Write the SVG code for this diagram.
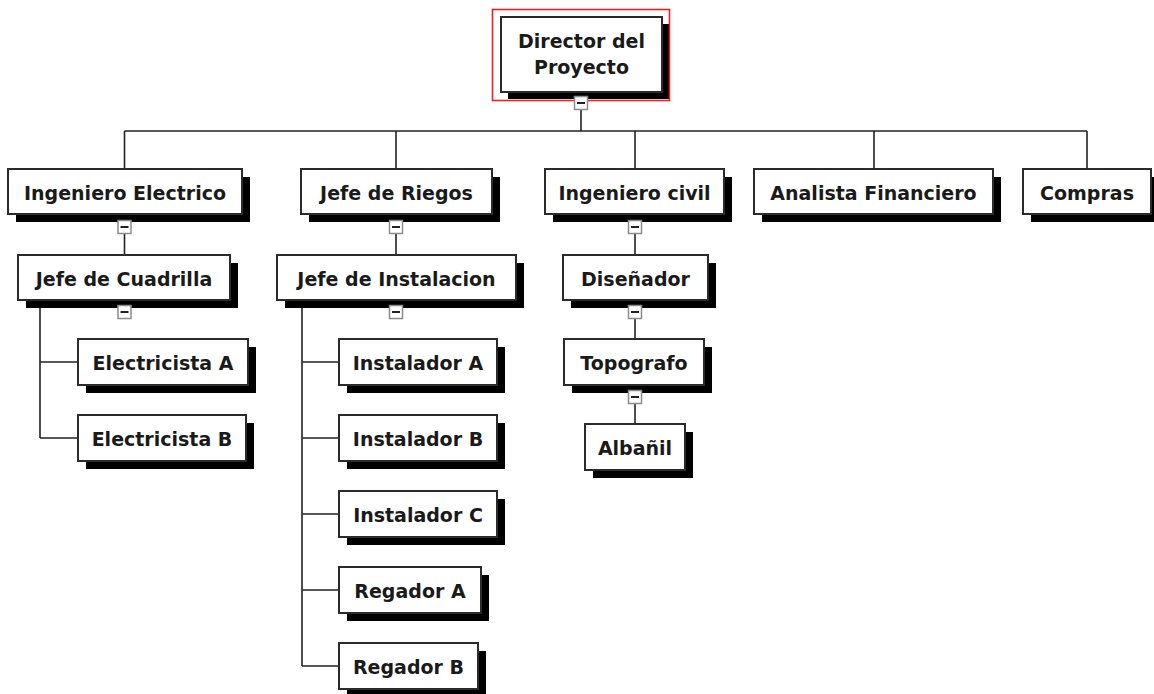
<svg xmlns="http://www.w3.org/2000/svg" width="1154" height="694" viewBox="0 0 1154 694">
  <style>
    .box { fill: #ffffff; stroke: #2b2b2b; stroke-width: 2; }
    .shadow { fill: #000000; }
    .label { font-family: "DejaVu Sans", Verdana, sans-serif; font-weight: bold; font-size: 19px; fill: #1a1a1a; text-anchor: middle; }
    .wire { fill: none; stroke: #222222; stroke-width: 1.6; }
    .toggle rect { fill: #ffffff; stroke: #8c8c8c; stroke-width: 1.5; }
    .toggle line { stroke: #222222; stroke-width: 2; }
    .focus { fill: none; stroke: #e8202a; stroke-width: 1.6; }
  </style>
  <defs>
    <g id="toggle" class="toggle">
      <rect x="-6.5" y="0" width="13" height="13"/>
      <line x1="-4" y1="6.5" x2="4" y2="6.5"/>
    </g>
  </defs>

  <rect width="1154" height="694" fill="#ffffff"/>

  <!-- connectors -->
  <g id="connectors" class="wire">
    <path d="M581 109 V131"/>
    <path d="M124.5 131 H1087"/>
    <path d="M124.5 131 V169 M396 131 V169 M635 131 V169 M874 131 V169 M1087 131 V169"/>
    <path d="M124.5 233 V255 M396 233 V255 M635 233 V255"/>
    <path d="M40 300 V438 M40 362 H78 M40 438 H78"/>
    <path d="M302 301 V666 M302 362 H339 M302 438 H339 M302 514 H339 M302 590 H339 M302 666 H339"/>
    <path d="M635 318 V339 M635 403 V424"/>
  </g>

  <!-- nodes -->
  <g id="n-director">
    <rect class="shadow" x="508" y="24" width="161" height="75"/>
    <rect class="box" x="501" y="17" width="161" height="75"/>
    <text class="label" x="581.5" y="48">Director del</text>
    <text class="label" x="581.5" y="74">Proyecto</text>
    <rect class="focus" x="492.5" y="9.5" width="177" height="91"/>
    <use href="#toggle" x="581" y="96.5"/>
  </g>

  <g id="n-ing-electrico">
    <rect class="shadow" x="16" y="177" width="234" height="45"/>
    <rect class="box" x="8" y="169" width="234" height="45"/>
    <text class="label" x="125" y="200">Ingeniero Electrico</text>
    <use href="#toggle" x="124.5" y="220.5"/>
  </g>

  <g id="n-jefe-riegos">
    <rect class="shadow" x="309" y="177" width="191" height="45"/>
    <rect class="box" x="301" y="169" width="191" height="45"/>
    <text class="label" x="396.5" y="200">Jefe de Riegos</text>
    <use href="#toggle" x="396" y="220.5"/>
  </g>

  <g id="n-ing-civil">
    <rect class="shadow" x="553" y="177" width="179" height="45"/>
    <rect class="box" x="545" y="169" width="179" height="45"/>
    <text class="label" x="634.5" y="200">Ingeniero civil</text>
    <use href="#toggle" x="635" y="220.5"/>
  </g>

  <g id="n-analista">
    <rect class="shadow" x="762" y="177" width="239" height="45"/>
    <rect class="box" x="754" y="169" width="239" height="45"/>
    <text class="label" x="873.5" y="200">Analista Financiero</text>
  </g>

  <g id="n-compras">
    <rect class="shadow" x="1031" y="177" width="128" height="45"/>
    <rect class="box" x="1023" y="169" width="128" height="45"/>
    <text class="label" x="1087" y="200">Compras</text>
  </g>

  <g id="n-jefe-cuadrilla">
    <rect class="shadow" x="26" y="263" width="212" height="45"/>
    <rect class="box" x="18" y="255" width="212" height="45"/>
    <text class="label" x="124" y="286">Jefe de Cuadrilla</text>
    <use href="#toggle" x="124.5" y="305.5"/>
  </g>

  <g id="n-jefe-instalacion">
    <rect class="shadow" x="285" y="263" width="239" height="45"/>
    <rect class="box" x="277" y="255" width="239" height="45"/>
    <text class="label" x="396.5" y="286">Jefe de Instalacion</text>
    <use href="#toggle" x="396" y="305.5"/>
  </g>

  <g id="n-disenador">
    <rect class="shadow" x="571" y="263" width="145" height="45"/>
    <rect class="box" x="563" y="255" width="145" height="45"/>
    <text class="label" x="635.5" y="286">Diseñador</text>
    <use href="#toggle" x="635" y="305.5"/>
  </g>

  <g id="n-electricista-a">
    <rect class="shadow" x="86" y="347" width="170" height="46"/>
    <rect class="box" x="78" y="339" width="170" height="46"/>
    <text class="label" x="163" y="370">Electricista A</text>
  </g>

  <g id="n-electricista-b">
    <rect class="shadow" x="86" y="423" width="168" height="46"/>
    <rect class="box" x="78" y="415" width="168" height="46"/>
    <text class="label" x="162" y="446">Electricista B</text>
  </g>

  <g id="n-instalador-a">
    <rect class="shadow" x="347" y="347" width="158" height="46"/>
    <rect class="box" x="339" y="339" width="158" height="46"/>
    <text class="label" x="418" y="370">Instalador A</text>
  </g>

  <g id="n-instalador-b">
    <rect class="shadow" x="347" y="423" width="158" height="46"/>
    <rect class="box" x="339" y="415" width="158" height="46"/>
    <text class="label" x="418" y="446">Instalador B</text>
  </g>

  <g id="n-instalador-c">
    <rect class="shadow" x="347" y="499" width="158" height="46"/>
    <rect class="box" x="339" y="491" width="158" height="46"/>
    <text class="label" x="418" y="522">Instalador C</text>
  </g>

  <g id="n-regador-a">
    <rect class="shadow" x="347" y="575" width="142" height="46"/>
    <rect class="box" x="339" y="567" width="142" height="46"/>
    <text class="label" x="410" y="598">Regador A</text>
  </g>

  <g id="n-regador-b">
    <rect class="shadow" x="347" y="651" width="139" height="46"/>
    <rect class="box" x="339" y="643" width="139" height="46"/>
    <text class="label" x="408.5" y="674">Regador B</text>
  </g>

  <g id="n-topografo">
    <rect class="shadow" x="572" y="347" width="140" height="46"/>
    <rect class="box" x="564" y="339" width="140" height="46"/>
    <text class="label" x="634" y="370">Topografo</text>
    <use href="#toggle" x="635" y="390.5"/>
  </g>

  <g id="n-albanil">
    <rect class="shadow" x="593" y="432" width="100" height="46"/>
    <rect class="box" x="585" y="424" width="100" height="46"/>
    <text class="label" x="635" y="455">Albañil</text>
  </g>
</svg>
